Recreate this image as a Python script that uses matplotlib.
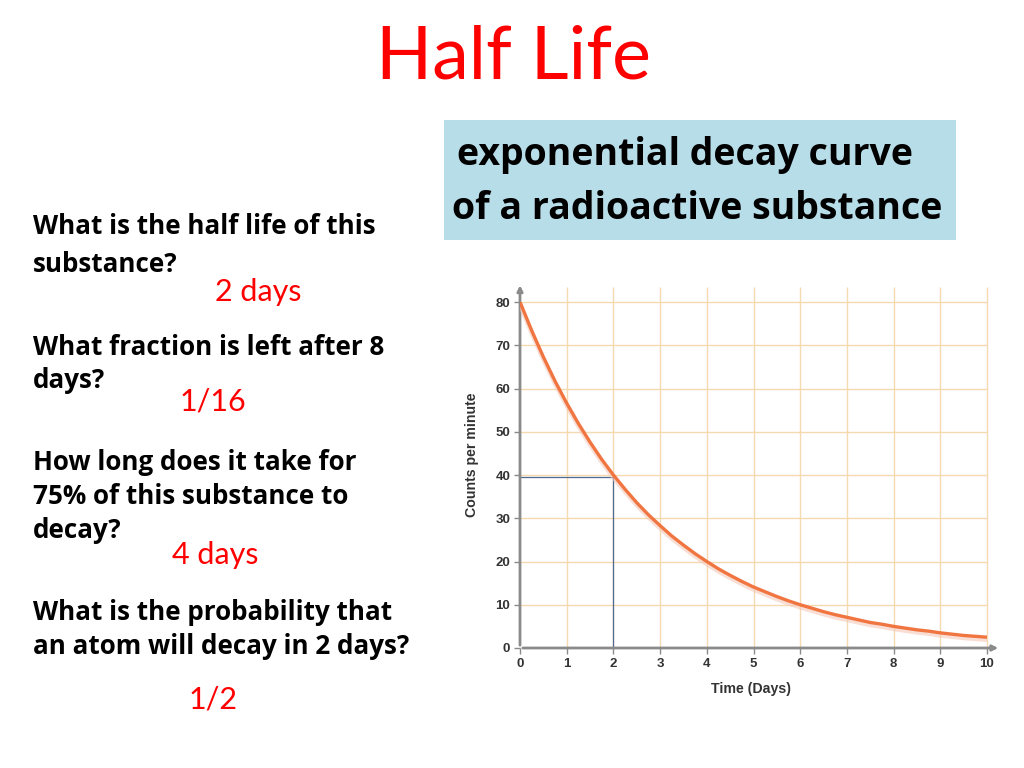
import numpy as np
import matplotlib
matplotlib.use("Agg")
from matplotlib import pyplot as plt
from matplotlib.patches import Rectangle

# values (counts per minute vs days)
days = [0, 0.25, 0.5, 0.75, 1, 1.25, 1.5, 1.75, 2, 2.25, 2.5, 2.75, 3, 3.25, 3.5, 3.75,
        4, 4.25, 4.5, 4.75, 5, 5.25, 5.5, 5.75, 6, 6.25, 6.5, 6.75, 7, 7.25, 7.5, 7.75,
        8, 8.25, 8.5, 8.75, 9, 9.25, 9.5, 9.75, 10]
counts = [80, 73.4, 67.3, 61.7, 56.6, 51.9, 47.6, 43.6, 40, 36.7, 33.6, 30.8, 28.3, 25.9,
          23.8, 21.8, 20, 18.3, 16.8, 15.4, 14.1, 13.0, 11.9, 10.9, 10, 9.2, 8.4, 7.7,
          7.1, 6.5, 5.9, 5.5, 5.0, 4.6, 4.2, 3.9, 3.5, 3.2, 2.9, 2.7, 2.5]
half_life = 2
half_count = 39.5
x_ticks = [0, 1, 2, 3, 4, 5, 6, 7, 8, 9, 10]
y_ticks = [0, 10, 20, 30, 40, 50, 60, 70, 80]

questions = [
    ["What is the half life of this", "substance?"],
    ["What fraction is left after 8", "days?"],
    ["How long does it take for", "75% of this substance to", "decay?"],
    ["What is the probability that", "an atom will decay in 2 days?"],
]
answers = ["2 days", "1/16", "4 days", "1/2"]

W, H = 1024, 768
fig = plt.figure(figsize=(W / 100, H / 100), dpi=100)
fig.patch.set_facecolor("white")


def px(x, y):
    return x / W, 1 - y / H


# title
fig.text(*px(513, 58), "Half Life", color="#ff0000", fontsize=53, family="Lato",
         ha="center", va="center")

# blue caption box
fig.patches.append(Rectangle(px(444, 240), 512 / W, 120 / H, transform=fig.transFigure,
                             facecolor="#b7dde8", edgecolor="none"))
fig.text(*px(457, 155), "exponential decay curve", fontsize=27, weight="bold",
         family="Open Sans", ha="left", va="center")
fig.text(*px(452, 209), "of a radioactive substance", fontsize=27, weight="bold",
         family="Open Sans", ha="left", va="center")

# questions and answers
q_lines_y = [[227, 265], [347, 380], [463, 496, 530], [612, 646]]
ans_pos = [(258, 292), (213, 402), (215, 555), (213, 700)]
for q, ys in zip(questions, q_lines_y):
    for line, y in zip(q, ys):
        fig.text(*px(33, y), line, fontsize=18.7, weight="bold", family="Open Sans",
                 ha="left", va="center")
for a, (x, y) in zip(answers, ans_pos):
    fig.text(*px(x, y), a, fontsize=22, color="#ff0000", family="Lato",
             ha="center", va="center")

# the graph
ax = fig.add_axes([520 / W, 1 - 648 / H, 467 / W, 346 / H])
ax.set_xlim(0, 10)
ax.set_ylim(0, 80)
for s in ax.spines.values():
    s.set_visible(False)
ax.patch.set_alpha(0)

grid_c = "#f5d9b0"
ax.vlines(x_ticks[1:], 0, 83.5, color=grid_c, lw=1.0, clip_on=False, zorder=1)
ax.hlines(y_ticks[1:], 0, 10, color=grid_c, lw=1.0, clip_on=False, zorder=1)

axis_c = "#8a8a8a"
ax.annotate("", xy=(10.3, 0), xytext=(0, 0), xycoords="data",
            arrowprops=dict(arrowstyle="-|>", color=axis_c, lw=2, mutation_scale=8),
            annotation_clip=False, zorder=3)
ax.annotate("", xy=(0, 84.5), xytext=(0, 0), xycoords="data",
            arrowprops=dict(arrowstyle="-|>", color=axis_c, lw=2, mutation_scale=8),
            annotation_clip=False, zorder=3)

# half life guide lines
ax.plot([0, half_life], [half_count, half_count], color="#4d6a92", lw=0.9, zorder=2)
ax.plot([half_life, half_life], [0, half_count], color="#4d6a92", lw=0.9, zorder=2)

# curve with faint shadow
ax.plot(days, [c - 0.6 for c in counts], color="#f4c9b8", lw=3.2, alpha=0.6,
        solid_capstyle="round", zorder=3)
ax.plot(days, counts, color="#f07540", lw=2.4, solid_capstyle="round", zorder=4)

ax.set_xticks(x_ticks)
ax.set_yticks(y_ticks)
ax.tick_params(axis="both", length=4, width=1, color=axis_c, labelsize=9.5,
               labelcolor="#333333", pad=3)
for lab in ax.get_xticklabels() + ax.get_yticklabels():
    lab.set_fontweight("bold")
    lab.set_family("Liberation Sans")
ax.set_xlabel("Time (Days)", fontsize=10.2, weight="bold", color="#333333",
              family="Liberation Sans")
ax.set_ylabel("Counts per minute", fontsize=10.2, weight="bold", color="#333333",
              family="Liberation Sans")
ax.xaxis.set_label_coords(0.495, -0.097)
ax.yaxis.set_label_coords(-0.087, 0.558)

fig.savefig("out.png", dpi=100, facecolor="white")
